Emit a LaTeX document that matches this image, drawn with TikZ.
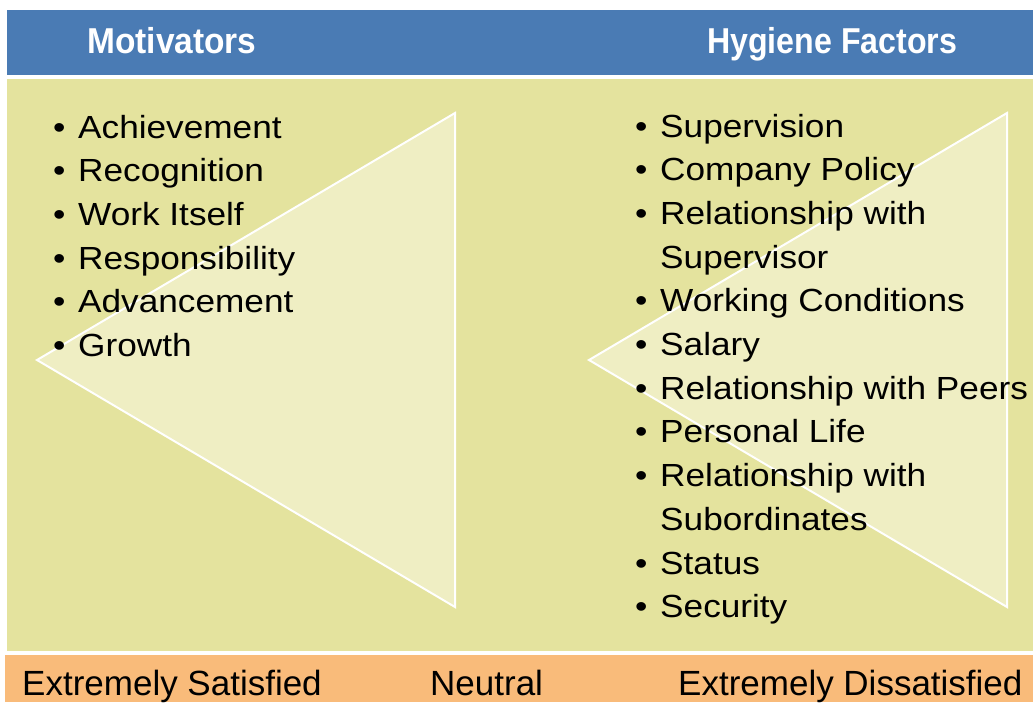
\documentclass[tikz,border=0pt]{standalone}
\usepackage{fontspec}
\setmainfont{Liberation Sans}
\newfontfamily\listfont[FakeStretch=1.1]{Liberation Sans}
\newfontfamily\headfont[FakeStretch=0.93]{Liberation Sans}
\definecolor{bandblue}{HTML}{4A7BB4}
\definecolor{panel}{HTML}{E4E39E}
\definecolor{trifill}{HTML}{EFEEC3}
\definecolor{bandorange}{HTML}{F9BB7A}
\tikzset{
  headtxt/.style={inner sep=0pt, anchor=base west, text=white, font=\headfont\bfseries\fontsize{36}{40}\selectfont},
  item/.style={inner sep=0pt, anchor=base west, font=\listfont\fontsize{32}{38}\selectfont},
  foot/.style={inner sep=0pt, anchor=base west, font=\fontsize{35}{40}\selectfont},
  tri/.style={fill=trifill, draw=white, line width=2pt, line join=miter}
}
\newcommand{\bul}{\makebox[25pt][l]{\textbullet}}
\newcommand{\nob}{\makebox[25pt][l]{}}
\begin{document}
\begin{tikzpicture}[x=1pt,y=-1pt]
\useasboundingbox (0,0) rectangle (1033,702);
\fill[white] (0,0) rectangle (1033,702);
% bands
\fill[bandblue] (7,10) rectangle (1033,75);
\fill[panel] (7,79) rectangle (1033,651);
\fill[bandorange] (5,655) rectangle (1033,702);
% triangles
\draw[tri] (37,360) -- (455,113) -- (455,607) -- cycle;
\draw[tri] (589,360) -- (1007,113) -- (1007,607) -- cycle;
% headers
\node[headtxt] (hm) at (87,53) {Motivators};
\node[headtxt] (hh) at (707,53) {\scalebox{0.96}[1]{Hygiene Factors}};
% left list
\node[item] (l1) at (53,138.0) {\bul Achievement};
\node[item] (l2) at (53,181.7) {\bul Recognition};
\node[item] (l3) at (53,225.4) {\bul Work Itself};
\node[item] (l4) at (53,269.1) {\bul Responsibility};
\node[item] (l5) at (53,312.8) {\bul Advancement};
\node[item] (l6) at (53,356.5) {\bul Growth};
% right list
\node[item] (r1)  at (635,137.0) {\bul Supervision};
\node[item] (r2)  at (635,180.7) {\bul Company Policy};
\node[item] (r3)  at (635,224.4) {\bul Relationship with};
\node[item] (r3b) at (635,268.1) {\nob Supervisor};
\node[item] (r4)  at (635,311.8) {\bul Working Conditions};
\node[item] (r5)  at (635,355.5) {\bul Salary};
\node[item] (r6)  at (635,399.2) {\bul Relationship with Peers};
\node[item] (r7)  at (635,442.9) {\bul Personal Life};
\node[item] (r8)  at (635,486.6) {\bul Relationship with};
\node[item] (r8b) at (635,530.3) {\nob Subordinates};
\node[item] (r9)  at (635,574.0) {\bul Status};
\node[item] (r10) at (635,617.7) {\bul Security};
% footer
\node[foot] (f1) at (22,695) {Extremely Satisfied};
\node[foot] (f2) at (430,695) {Neutral};
\node[foot] (f3) at (678,695) {Extremely Dissatisfied};
\end{tikzpicture}
\end{document}
